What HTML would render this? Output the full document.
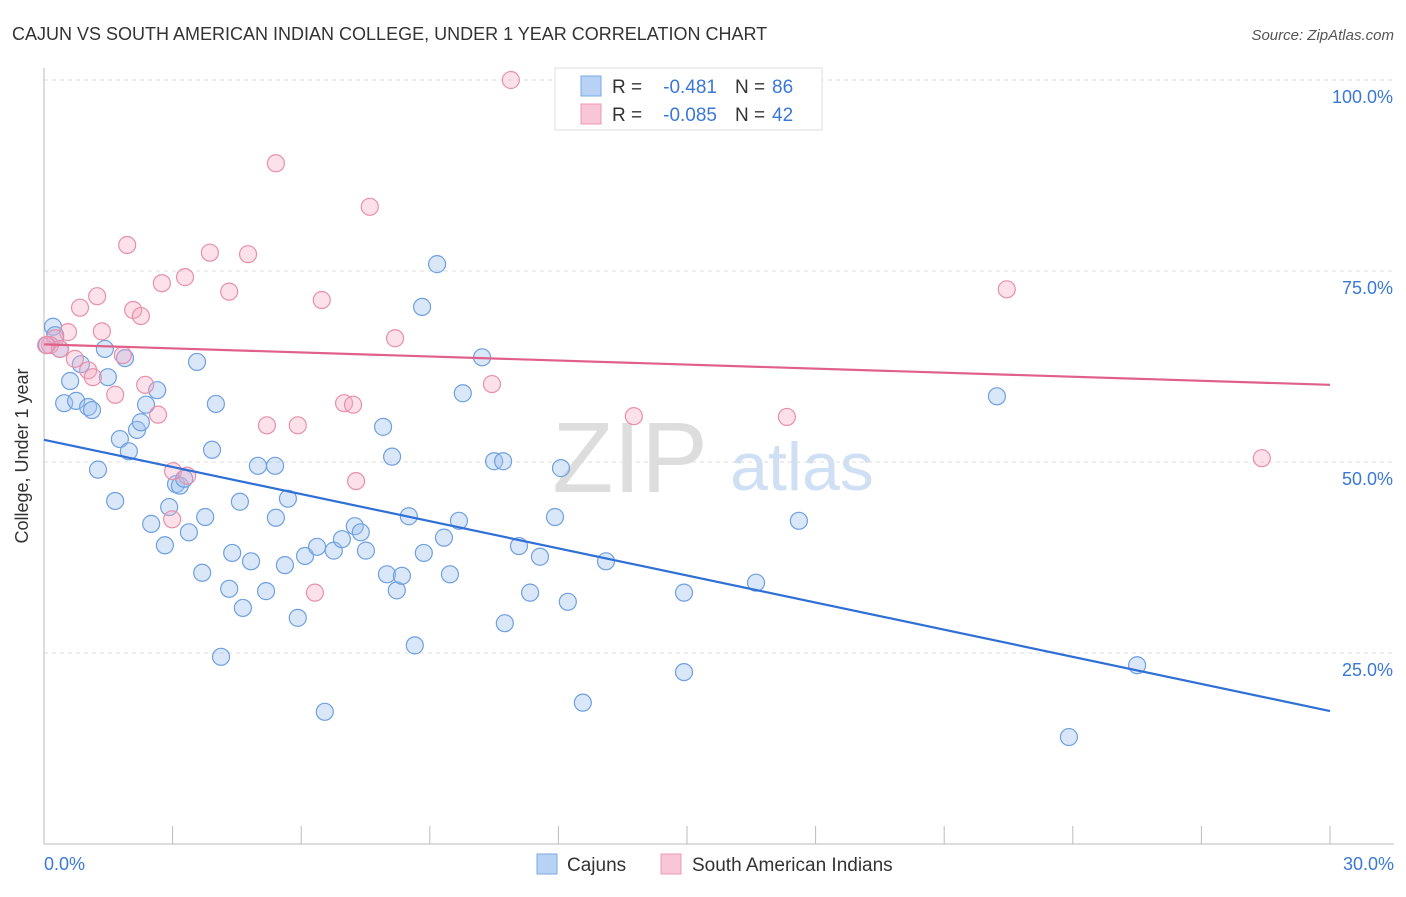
<!DOCTYPE html>
<html><head><meta charset="utf-8"><style>
body{margin:0;background:#fff;font-family:"Liberation Sans",sans-serif;}
svg text{font-family:"Liberation Sans",sans-serif;}
</style></head><body>
<svg id="chart" width="1406" height="892" xmlns="http://www.w3.org/2000/svg">
<text x="12" y="40" font-size="18" fill="#333">CAJUN VS SOUTH AMERICAN INDIAN COLLEGE, UNDER 1 YEAR CORRELATION CHART</text>
<text x="1394" y="40" font-size="15" fill="#555" font-style="italic" text-anchor="end">Source: ZipAtlas.com</text>
<text x="630" y="492" font-size="100" fill="#ddd" font-family="Liberation Serif,serif" text-anchor="middle">ZIP</text>
<text x="802" y="490" font-size="68" fill="#cfe0f5" text-anchor="middle">atlas</text>
<g id="grid"></g><g id="axes"></g><g id="pts"></g><g id="lines"></g>
<text x="28" y="456" font-size="18" fill="#333" transform="rotate(-90 28 456)" text-anchor="middle">College, Under 1 year</text>
<text x="44" y="870" font-size="18" fill="#3a78d8">0.0%</text>
<text x="1394" y="870" font-size="18" fill="#3a78d8" text-anchor="end">30.0%</text>
<g>
<rect x="555" y="68" width="267" height="62" fill="#fff" stroke="#ddd"/>
<rect x="581" y="76" width="20" height="20" fill="#b8d2f5" stroke="#7aa8e6"/>
<rect x="581" y="104" width="20" height="20" fill="#f8c6d6" stroke="#ec9ab4"/>
<text x="612" y="93" font-size="19" fill="#333">R =</text>
<text x="717" y="93" font-size="19" fill="#3a78d8" text-anchor="end">-0.481</text>
<text x="735" y="93" font-size="19" fill="#333">N =</text>
<text x="772" y="93" font-size="19" fill="#3a78d8">86</text>
<text x="612" y="121" font-size="19" fill="#333">R =</text>
<text x="717" y="121" font-size="19" fill="#3a78d8" text-anchor="end">-0.085</text>
<text x="735" y="121" font-size="19" fill="#333">N =</text>
<text x="772" y="121" font-size="19" fill="#3a78d8">42</text>
</g>
<g>
<rect x="537" y="854" width="20" height="20" fill="#b8d2f5" stroke="#7aa8e6"/>
<text x="567" y="871" font-size="19" fill="#333">Cajuns</text>
<rect x="661" y="854" width="20" height="20" fill="#f8c6d6" stroke="#ec9ab4"/>
<text x="692" y="871" font-size="19" fill="#333">South American Indians</text>
</g>
</svg>
<script>
const yTicks=[25,50,75,100];
const yTickLabels=["25.0%","50.0%","75.0%","100.0%"];
const xTicks=[0,3,6,9,12,15,18,21,24,27,30];
const blueX=[0.21,0.07,0.26,0.37,0.61,0.47,0.75,1.03,1.12,0.86,1.26,1.42,1.49,1.66,1.77,1.89,1.98,2.17,2.26,2.38,2.5,2.64,2.82,2.92,3.08,3.17,3.27,3.38,3.57,3.69,3.76,3.92,4.01,4.13,4.32,4.39,4.57,4.64,4.83,4.99,5.18,5.39,5.41,5.62,5.69,5.92,6.09,6.37,6.55,6.76,6.95,7.25,7.39,7.51,7.91,8.0,8.12,8.23,8.35,8.51,8.65,8.82,8.86,9.17,9.33,9.47,9.68,9.77,10.22,10.5,10.71,10.75,11.08,11.34,11.57,11.92,12.06,12.22,12.57,13.11,14.93,14.93,16.61,17.61,22.23,23.91,25.5];
const blueY=[67.7,65.3,66.6,64.8,60.6,57.7,58.0,57.2,56.8,62.8,49.0,64.8,61.1,44.9,53.0,63.6,51.4,54.2,55.2,57.5,41.9,59.4,39.1,44.1,47.1,46.9,47.8,40.8,63.1,35.5,42.8,51.6,57.6,24.5,33.4,38.1,44.8,30.9,37.0,49.5,33.1,49.5,42.7,36.5,45.2,29.6,37.7,38.9,17.3,38.4,39.9,41.6,40.8,38.4,54.6,35.3,50.7,33.2,35.1,42.9,26.0,70.3,38.1,75.9,40.1,35.3,42.3,59.0,63.7,50.1,50.1,28.9,39.0,32.9,37.6,42.8,49.2,31.7,18.5,37.0,32.9,22.5,34.2,42.3,58.6,14.0,23.4];
const pinkX=[10.89,5.41,7.6,1.94,3.87,4.76,3.29,2.75,4.32,1.24,6.48,0.84,2.08,2.26,0.56,1.35,0.26,0.14,0.37,8.19,1.84,0.72,1.03,1.14,2.36,10.45,1.66,7.0,7.21,2.66,5.2,5.92,13.76,17.33,3.01,3.34,7.28,2.99,6.32,22.46,28.41,0.05];
const pinkY=[100.0,89.1,83.4,78.4,77.4,77.2,74.2,73.4,72.3,71.7,71.2,70.2,69.9,69.1,67.0,67.1,66.2,65.3,64.8,66.2,64.0,63.5,62.0,61.1,60.1,60.2,58.8,57.7,57.5,56.2,54.8,54.8,56.0,55.9,48.8,48.2,47.5,42.5,32.9,72.6,50.5,65.3];
const blueTrend=[52.9,17.4];
const pinkTrend=[65.4,60.1];
const NS="http://www.w3.org/2000/svg";
const X0=44,X1=1330,Y0=844,Y100=80;
function sx(v){return X0+(X1-X0)*v/30;}
function sy(v){return Y0-(Y0-Y100)*v/100;}
function mk(tag,attrs,parent){const e=document.createElementNS(NS,tag);for(const k in attrs)e.setAttribute(k,attrs[k]);parent.appendChild(e);return e;}
const grid=document.getElementById('grid'),axes=document.getElementById('axes'),pts=document.getElementById('pts'),lines=document.getElementById('lines');
yTicks.forEach((t,i)=>{
 const l=mk('line',{x1:X0,x2:1394,y1:sy(t),y2:sy(t),stroke:'#ddd','stroke-dasharray':'4 4'},grid);
 
 
 const tx=mk('text',{x:1393,y:sy(t)+23,'font-size':18,fill:'#3a78d8','text-anchor':'end'},grid);
 tx.textContent=yTickLabels[i];
 
 
});
const ya=mk('line',{x1:X0,x2:X0,y1:68,y2:Y0,stroke:'#bbb'},axes);


const xa=mk('line',{x1:X0,x2:1394,y1:Y0,y2:Y0,stroke:'#bbb'},axes);


xTicks.forEach(t=>{
 const l=mk('line',{x1:sx(t),x2:sx(t),y1:826,y2:Y0,stroke:'#bbb'},axes);
 
 
});
blueX.forEach((v,i)=>{
 const c=mk('circle',{cx:sx(v),cy:sy(blueY[i]),r:8.5,fill:'rgba(160,196,240,0.4)',stroke:'#6fa0e0','stroke-width':1.2},pts);
 
 
});
pinkX.forEach((v,i)=>{
 const c=mk('circle',{cx:sx(v),cy:sy(pinkY[i]),r:8.5,fill:'rgba(245,170,195,0.35)',stroke:'#e890aa','stroke-width':1.2},pts);
 
 
});
const bl=mk('line',{x1:sx(0),x2:sx(30),y1:sy(blueTrend[0]),y2:sy(blueTrend[1]),stroke:'#2f6fd6','stroke-width':2.2},lines);


const pl=mk('line',{x1:sx(0),x2:sx(30),y1:sy(pinkTrend[0]),y2:sy(pinkTrend[1]),stroke:'#e0608a','stroke-width':2.2},lines);


</script>
</body></html>
